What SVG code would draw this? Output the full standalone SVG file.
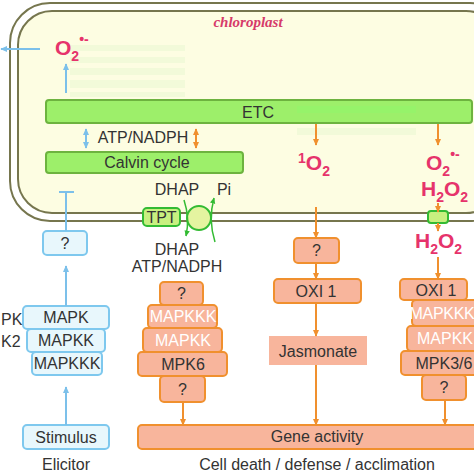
<svg xmlns="http://www.w3.org/2000/svg" width="474" height="474" viewBox="0 0 474 474">
<defs>
<style>
.t{font-family:"Liberation Sans",Arial,sans-serif;font-size:16px;fill:#333;text-anchor:middle}
.w{fill:#fff}
.ros{font-family:"Liberation Sans",Arial,sans-serif;font-weight:bold;font-size:21px;fill:#e6336b}
.gbar{fill:#9def6a;stroke:#6db33f;stroke-width:2}
.ob{fill:#f8b59c;stroke:#f0902e;stroke-width:2}
.bb{fill:#e8f7fc;stroke:#7ec8ee;stroke-width:2}
.oa{stroke:#f0902e;stroke-width:2;fill:none}
.ba{stroke:#7cc0ea;stroke-width:2;fill:none}
.ga{stroke:#33bb33;stroke-width:1.5;fill:none}
.ghost{fill:#e4f7cf;opacity:0.45}
</style>
<marker id="ao" viewBox="0 0 10 10" refX="9" refY="5" markerWidth="7" markerHeight="7" markerUnits="userSpaceOnUse" orient="auto-start-reverse"><path d="M0,0.5 L10,5 L0,9.5 z" fill="#f0902e"/></marker>
<marker id="ab" viewBox="0 0 10 10" refX="9" refY="5" markerWidth="7" markerHeight="7" markerUnits="userSpaceOnUse" orient="auto-start-reverse"><path d="M0,0.5 L10,5 L0,9.5 z" fill="#7cc0ea"/></marker>
<marker id="ag" viewBox="0 0 10 10" refX="9" refY="5" markerWidth="6" markerHeight="6" markerUnits="userSpaceOnUse" orient="auto-start-reverse"><path d="M0,0.5 L10,5 L0,9.5 z" fill="#33bb33"/></marker>
</defs>
<rect width="474" height="474" fill="#fff"/>

<g id="chloroplast">
<rect x="10" y="3" width="500" height="218" rx="40" fill="#fff" stroke="#76764e" stroke-width="2"/>
<rect x="18" y="11" width="482" height="202" rx="34" fill="#fdfde2" stroke="#76764e" stroke-width="2"/>
<text x="248" y="27" font-family="Liberation Serif,serif" font-style="italic" font-weight="bold" font-size="15" fill="#d63a6a" text-anchor="middle">chloroplast</text>
</g>

<g id="ghost-stripes">
<rect class="ghost" x="70" y="45" width="115" height="6"/>
<rect class="ghost" x="70" y="57" width="115" height="6"/>
<rect class="ghost" x="70" y="68" width="115" height="7"/>
<rect class="ghost" x="70" y="80" width="115" height="8"/>
<rect class="ghost" x="70" y="92" width="115" height="5"/>
<rect class="ghost" x="297" y="128" width="119" height="7"/>
</g>

<g id="etc">
<rect class="gbar" x="46" y="100" width="426" height="23" rx="3"/>
<rect x="297" y="106" width="119" height="7" fill="#8ff86a" opacity="0.5"/>
<text class="t" x="258" y="118" font-size="15.5">ETC</text>
</g>

<g id="calvin">
<rect class="gbar" x="46" y="152" width="197" height="21" rx="3"/>
<text class="t" x="147" y="168" font-size="16.5">Calvin cycle</text>
</g>

<g id="atp-label"><text class="t" x="143" y="143">ATP/NADPH</text></g>

<g id="o2-left">
<text class="ros" x="55" y="55">O<tspan font-size="14" dy="6">2</tspan><tspan font-size="14" dy="-17">•-</tspan></text>
</g>
<g id="singlet-o2">
<text class="ros" x="298" y="170"><tspan font-size="14" dy="-7">1</tspan><tspan dy="7">O</tspan><tspan font-size="14" dy="6">2</tspan></text>
</g>
<g id="o2-right">
<text class="ros" x="426" y="170">O<tspan font-size="14" dy="6">2</tspan><tspan font-size="14" dy="-17">•-</tspan></text>
</g>
<g id="h2o2-in">
<text class="ros" x="421" y="196">H<tspan font-size="14" dy="6">2</tspan><tspan dy="-6">O</tspan><tspan font-size="14" dy="6">2</tspan></text>
</g>
<g id="h2o2-out">
<text class="ros" x="415" y="248">H<tspan font-size="14" dy="6">2</tspan><tspan dy="-6">O</tspan><tspan font-size="14" dy="6">2</tspan></text>
</g>

<g id="tpt">
<rect x="143" y="208" width="37" height="18" rx="4" fill="#c8f080" stroke="#33bb33" stroke-width="2"/>
<text class="t" x="161.5" y="223" font-size="15">TPT</text>
<circle cx="199" cy="218" r="12" fill="#e4f4a0" stroke="#33bb33" stroke-width="2"/>
</g>
<g id="channel">
<rect x="428" y="211" width="20" height="12" rx="3" fill="#c8f080" stroke="#33bb33" stroke-width="2"/>
</g>
<g id="dhap-labels">
<text class="t" x="177" y="195" font-size="15">DHAP</text>
<text class="t" x="224" y="195" font-size="15">Pi</text>
<text class="t" x="177" y="255" font-size="15">DHAP</text>
<text class="t" x="177" y="272">ATP/NADPH</text>
</g>

<g id="blue-q"><rect class="bb" x="43" y="231" width="44" height="24" rx="4"/><text class="t" x="65" y="249">?</text></g>
<g id="mapk"><rect class="bb" x="23" y="306" width="86" height="23" rx="4"/><text class="t" x="66" y="323">MAPK</text></g>
<g id="mapkk"><rect class="bb" x="27" y="329" width="78" height="23" rx="4"/><text class="t" x="66" y="346">MAPKK</text></g>
<g id="mapkkk"><rect class="bb" x="32" y="352" width="70" height="23" rx="4"/><text class="t" x="67" y="369">MAPKKK</text></g>
<g id="stimulus"><rect class="bb" x="23" y="425" width="86" height="24" rx="4"/><text class="t" x="66" y="443" font-size="17">Stimulus</text></g>
<g id="left-labels">
<text class="t" x="1" y="325" font-size="14" style="text-anchor:start">PK</text>
<text class="t" x="1" y="347" font-size="14" style="text-anchor:start">K2</text>
</g>

<g id="o-q1"><rect class="ob" x="160" y="282" width="43" height="23" rx="4"/><text class="t" x="181.5" y="299">?</text></g>
<g id="o-mapkkk1"><rect class="ob" x="148" y="305" width="69" height="23" rx="4"/><text class="t w" x="183" y="322">MAPKKK</text></g>
<g id="o-mapkk1"><rect class="ob" x="143" y="328" width="79" height="24" rx="4"/><text class="t w" x="183" y="346">MAPKK</text></g>
<g id="o-mpk6"><rect class="ob" x="138" y="352" width="89" height="24" rx="4"/><text class="t" x="183" y="370">MPK6</text></g>
<g id="o-q2"><rect class="ob" x="160" y="376" width="45" height="26" rx="4"/><text class="t" x="182.5" y="395">?</text></g>

<g id="o-q3"><rect class="ob" x="294" y="238" width="45" height="25" rx="4"/><text class="t" x="316.5" y="256">?</text></g>
<g id="oxi1-a"><rect class="ob" x="274" y="279" width="87" height="24" rx="4"/><text class="t" x="316" y="297">OXI 1</text></g>
<g id="jasmonate"><rect x="269" y="336" width="98" height="29" fill="#f8b59c"/><text class="t" x="318" y="357" font-size="17.5">Jasmonate</text></g>

<g id="oxi1-b"><rect class="ob" x="400" y="279" width="67" height="21" rx="4"/><text class="t" x="436" y="296">OXI 1</text></g>
<g id="o-mapkkk2"><rect class="ob" x="412" y="300" width="80" height="26" rx="4"/><text class="t w" x="442" y="319" font-size="15" letter-spacing="-0.3">MAPKKK</text></g>
<g id="o-mapkk2"><rect class="ob" x="407" y="326" width="85" height="25" rx="4"/><text class="t w" x="445" y="344">MAPKK</text></g>
<g id="o-mpk36"><rect class="ob" x="401" y="351" width="91" height="24" rx="4"/><text class="t" x="444" y="369">MPK3/6</text></g>
<g id="o-q4"><rect class="ob" x="422" y="375" width="44" height="25" rx="4"/><text class="t" x="444" y="393">?</text></g>

<g id="gene-activity"><rect class="ob" x="138" y="425" width="352" height="24" rx="4"/><text class="t" x="317" y="442" font-size="17">Gene activity</text></g>
<g id="bottom-labels">
<text class="t" x="66" y="470" font-size="17">Elicitor</text>
<text class="t" x="317" y="470">Cell death / defense / acclimation</text>
</g>

<g id="connectors">
<line class="ba" x1="40" y1="49" x2="1" y2="49" marker-end="url(#ab)"/>
<line class="ba" x1="66" y1="93" x2="66" y2="64" marker-end="url(#ab)"/>
<line class="ba" x1="86" y1="129" x2="86" y2="148" marker-start="url(#ab)" marker-end="url(#ab)"/>
<line class="oa" x1="196" y1="129" x2="196" y2="148" marker-start="url(#ao)" marker-end="url(#ao)"/>
<line class="ba" x1="66" y1="231" x2="66" y2="192"/>
<line class="ba" x1="59" y1="192" x2="74" y2="192"/>
<line class="ba" x1="66" y1="306" x2="66" y2="266" marker-end="url(#ab)"/>
<line class="ba" x1="66" y1="425" x2="66" y2="387" marker-end="url(#ab)"/>
<path class="ga" d="M184,200 Q190,218 186,236" marker-end="url(#ag)"/>
<path class="ga" d="M215,242 Q208,220 214,198" marker-end="url(#ag)"/>
<line class="oa" x1="316" y1="124" x2="316" y2="145" marker-end="url(#ao)"/>
<line class="oa" x1="438" y1="124" x2="438" y2="145" marker-end="url(#ao)"/>
<line class="oa" x1="438" y1="203" x2="438" y2="212" marker-end="url(#ao)"/>
<line class="oa" x1="438" y1="223" x2="438" y2="231" marker-end="url(#ao)"/>
<line class="oa" x1="316" y1="207" x2="316" y2="238" marker-end="url(#ao)"/>
<line class="oa" x1="316" y1="263" x2="316" y2="279" marker-end="url(#ao)"/>
<line class="oa" x1="316" y1="303" x2="316" y2="336" marker-end="url(#ao)"/>
<line class="oa" x1="316" y1="365" x2="316" y2="425" marker-end="url(#ao)"/>
<line class="oa" x1="438" y1="257" x2="438" y2="279" marker-end="url(#ao)"/>
<line class="oa" x1="183" y1="402" x2="183" y2="425" marker-end="url(#ao)"/>
<line class="oa" x1="445" y1="400" x2="445" y2="425" marker-end="url(#ao)"/>
</g>
</svg>
